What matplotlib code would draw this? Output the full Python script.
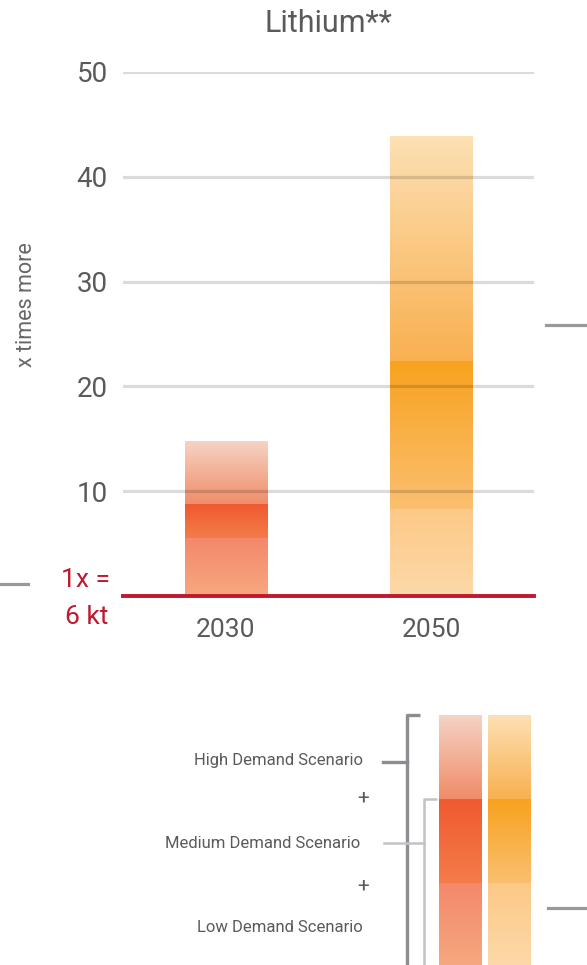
import numpy as np
import matplotlib
matplotlib.use('Agg')
import matplotlib.pyplot as plt
from matplotlib.colors import LinearSegmentedColormap

plt.rcParams['font.family'] = ['Roboto', 'DejaVu Sans']
plt.rcParams['font.weight'] = 'normal'

# data: x times more than today's demand (1x = 6 kt)
years = ['2030', '2050']
low_demand = [5.5, 8.3]
medium_demand = [8.7, 22.4]
high_demand = [14.8, 43.8]
yticks = [10, 20, 30, 40, 50]
scenario_labels = ['High Demand Scenario', 'Medium Demand Scenario', 'Low Demand Scenario']

# gradient colours per year: (top, bottom) for high, medium, low segments
grad_colors = {
    '2030': [('#f5d3c5', '#f08c68'), ('#ef5a30', '#f47c4a'), ('#f3886a', '#f7a880')],
    '2050': [('#fde0b4', '#f9b050'), ('#f8a21f', '#fbbf70'), ('#fcc987', '#fdd9a9')],
}

GRAY = '#5a5a5a'
RED = '#c0182e'
W, H = 587, 965


def gradient(ax, x0, x1, y0, y1, c_top, c_bot, z=2):
    cmap = LinearSegmentedColormap.from_list('g', [c_bot, c_top])
    ax.imshow(np.linspace(0, 1, 256).reshape(-1, 1), cmap=cmap, origin='lower',
              extent=(x0, x1, y0, y1), aspect='auto', zorder=z, interpolation='bilinear')


fig = plt.figure(figsize=(W / 100, H / 100), dpi=100)
ax = fig.add_axes([123 / W, 1 - 596 / H, 411 / W, 524 / H])

bar_w = 0.40
for i, yr in enumerate(years):
    edges = [high_demand[i], medium_demand[i], low_demand[i], 0]
    for k in range(3):
        top_c, bot_c = grad_colors[yr][k]
        gradient(ax, i - bar_w / 2, i + bar_w / 2, edges[k + 1], edges[k], top_c, bot_c)

ax.set_xlim(-0.5, 1.5)
ax.set_ylim(0, 50)
for v in yticks:
    ax.axhline(v, color='k', alpha=0.14, lw=2.3, zorder=3)
ax.axhline(0, color=RED, lw=2.8, zorder=4, clip_on=False)

for s in ax.spines.values():
    s.set_visible(False)
ax.set_yticks(yticks)
ax.set_yticklabels([str(v) for v in yticks], fontsize=20, color=GRAY)
ax.set_xticks(range(len(years)))
ax.set_xticklabels(years, fontsize=19, color=GRAY)
ax.tick_params(axis='y', length=0, pad=11)
ax.tick_params(axis='x', length=0, pad=16)
ax.set_title('Lithium**', fontsize=22, color=GRAY, pad=29)

fig.text(27 / W, 1 - 305 / H, 'x times more', rotation=90, ha='center', va='center',
         fontsize=15.5, color='#666666')
fig.text(110 / W, 1 - 580 / H, '1x =', ha='right', va='center', fontsize=19, color=RED)
fig.text(108 / W, 1 - 617 / H, '6 kt', ha='right', va='center', fontsize=19, color=RED)

# overlay in pixel coordinates for the legend and neighbour-panel fragments
ov = fig.add_axes([0, 0, 1, 1], zorder=10)
ov.set_xlim(0, W)
ov.set_ylim(H, 0)
ov.axis('off')
ov.patch.set_alpha(0)

ov.plot([0, 28], [584, 584], color='#999999', lw=2.3)
ov.plot([546, 587], [325, 325], color='#999999', lw=2.3)
ov.plot([548, 587], [908, 908], color='#999999', lw=2.3)

seg_y = [715, 799, 883, 967]
for yr, x0, x1 in [('2030', 439, 482), ('2050', 488, 531)]:
    for k in range(3):
        top_c, bot_c = grad_colors[yr][k]
        gradient(ov, x0, x1, seg_y[k + 1], seg_y[k], top_c, bot_c)
ov.set_xlim(0, W)
ov.set_ylim(H, 0)

dark = '#8c8c91'
light = '#c3c3c7'
ov.plot([420, 407, 407], [715, 715, 966], color=dark, lw=2.4, solid_capstyle='butt')
ov.plot([383, 407], [762, 762], color=dark, lw=2.4)
ov.plot([437, 424, 424], [799, 799, 966], color=light, lw=1.8, solid_capstyle='butt')
ov.plot([384, 424], [843, 843], color=light, lw=1.8)

label_y = [760, 843, 927]
label_x = [363, 360, 363]
for lab, lx, ly in zip(scenario_labels, label_x, label_y):
    ov.text(lx, ly, lab, ha='right', va='center', fontsize=12, color=GRAY)
for py in [798, 886]:
    ov.text(363, py, '+', ha='center', va='center', fontsize=15, color=GRAY)

fig.savefig('out.png', dpi=100)
